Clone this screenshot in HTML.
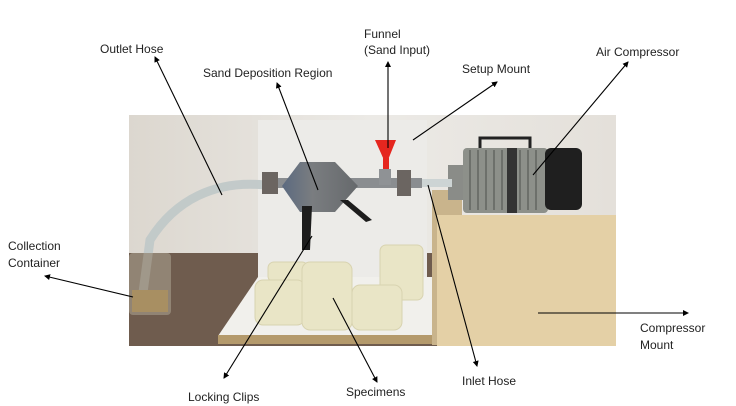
<!DOCTYPE html>
<html><head><meta charset="utf-8"><style>
html,body{margin:0;padding:0;background:#fff;}
svg{display:block}
text{font-family:"Liberation Sans",sans-serif;font-size:12px;fill:#222}
</style></head><body>
<svg width="736" height="406" viewBox="0 0 736 406" xmlns="http://www.w3.org/2000/svg">
<defs>
<marker id="a" markerWidth="6" markerHeight="6" refX="5" refY="3" orient="auto" markerUnits="userSpaceOnUse"><path d="M0,0 L6,3 L0,6 z" fill="#000"/></marker>
<linearGradient id="wall" x1="0" x2="1"><stop offset="0" stop-color="#dcd7cf"/><stop offset="0.5" stop-color="#eceae6"/><stop offset="1" stop-color="#e4e0da"/></linearGradient>
<linearGradient id="body" x1="0" x2="1"><stop offset="0" stop-color="#5b6a80"/><stop offset="0.4" stop-color="#7a7d80"/><stop offset="1" stop-color="#66696c"/></linearGradient>
</defs>
<rect x="129" y="115" width="487" height="231" fill="url(#wall)"/>
<rect x="129" y="253" width="487" height="93" fill="#6f5c4e"/>
<rect x="258" y="120" width="169" height="160" fill="#ecebe8"/>
<polygon points="258,277 432,277 437,336 218,336" fill="#f1f0ec"/>
<rect x="218" y="335" width="219" height="9" fill="#b49a6c"/>
<rect x="432" y="190" width="30" height="155" fill="#c9b48c"/>
<rect x="437" y="215" width="179" height="131" fill="#e4d0a6"/>
<rect x="448" y="165" width="15" height="35" fill="#8a8c88"/>
<rect x="463" y="148" width="85" height="65" rx="4" fill="#8d908a"/>
<g stroke="#6d706b" stroke-width="2">
<line x1="470" y1="150" x2="470" y2="210"/><line x1="478" y1="150" x2="478" y2="210"/><line x1="486" y1="150" x2="486" y2="210"/><line x1="494" y1="150" x2="494" y2="210"/><line x1="502" y1="150" x2="502" y2="210"/><line x1="520" y1="150" x2="520" y2="210"/><line x1="528" y1="150" x2="528" y2="210"/><line x1="536" y1="150" x2="536" y2="210"/>
</g>
<rect x="507" y="148" width="10" height="65" fill="#333"/>
<rect x="545" y="148" width="37" height="62" rx="6" fill="#1f1f1f"/>
<path d="M480,148 L480,138 L530,138 L530,148" fill="none" stroke="#222" stroke-width="3"/>
<path d="M265,185 C215,180 175,200 150,240 L142,300" fill="none" stroke="#bfc8c8" stroke-width="9" opacity="0.9"/>
<rect x="129" y="253" width="42" height="62" rx="4" fill="#9a8f7e" opacity="0.8"/>
<rect x="132" y="290" width="36" height="22" fill="#a88f62"/>
<rect x="262" y="178" width="160" height="10" fill="#8a8d90"/>
<rect x="422" y="179" width="30" height="8" fill="#cdd4d4"/>
<rect x="262" y="172" width="16" height="22" fill="#6b6561"/>
<rect x="397" y="170" width="14" height="26" fill="#6b6561"/>
<polygon points="282,186 300,162 335,162 358,186 335,212 300,212" fill="url(#body)"/>
<polygon points="375,140 396,140 388,160 384,160" fill="#e5261f"/>
<rect x="383" y="158" width="6" height="12" fill="#e5261f"/>
<rect x="379" y="169" width="12" height="16" fill="#8f9295"/>
<polygon points="302,206 312,206 310,250 302,250" fill="#1d1d1d"/>
<polygon points="340,200 348,200 372,220 366,222" fill="#1d1d1d"/>
<g fill="#e9e5c6" stroke="#d8d3b0">
<rect x="380" y="245" width="43" height="55" rx="6"/>
<rect x="268" y="262" width="40" height="20" rx="6"/>
<rect x="255" y="280" width="50" height="45" rx="8"/>
<rect x="302" y="262" width="50" height="68" rx="8"/>
<rect x="352" y="285" width="50" height="45" rx="8"/>
</g>
<g stroke="#000" stroke-width="1.1" fill="none" marker-end="url(#a)">
<line x1="222" y1="195" x2="155" y2="57"/>
<line x1="318" y1="190" x2="277" y2="83"/>
<line x1="388" y1="148" x2="388" y2="62"/>
<line x1="413" y1="140" x2="497" y2="82"/>
<line x1="533" y1="175" x2="628" y2="62"/>
<line x1="133" y1="297" x2="45" y2="276"/>
<line x1="312" y1="236" x2="224" y2="378"/>
<line x1="333" y1="298" x2="377" y2="382"/>
<line x1="428" y1="185" x2="477" y2="366"/>
<line x1="538" y1="313" x2="688" y2="313"/>
</g>
<text x="100" y="53">Outlet Hose</text>
<text x="203" y="77">Sand Deposition Region</text>
<text x="364" y="38">Funnel</text>
<text x="364" y="54">(Sand Input)</text>
<text x="462" y="73">Setup Mount</text>
<text x="596" y="56">Air Compressor</text>
<text x="8" y="250">Collection</text>
<text x="8" y="267">Container</text>
<text x="640" y="332">Compressor</text>
<text x="640" y="349">Mount</text>
<text x="462" y="385">Inlet Hose</text>
<text x="346" y="396">Specimens</text>
<text x="188" y="401">Locking Clips</text>
</svg>
</body></html>
